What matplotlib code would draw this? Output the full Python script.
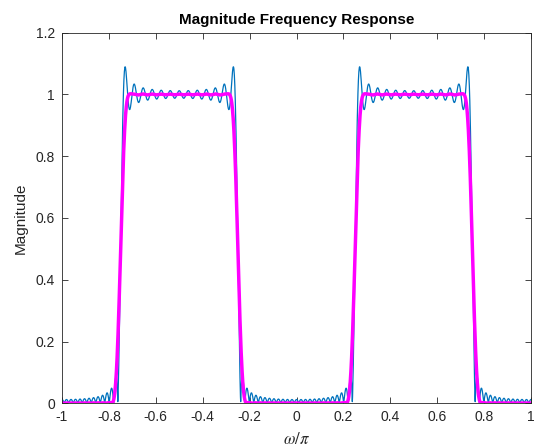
import numpy as np
import matplotlib
matplotlib.use('Agg')
import matplotlib.pyplot as plt

# filter specs (normalized frequency, w/pi)
band_edges = [0.25, 0.75]
filt_len = 101
freq_points = 2001
x_ticks = [-1, -0.8, -0.6, -0.4, -0.2, 0, 0.2, 0.4, 0.6, 0.8, 1]
y_ticks = [0, 0.2, 0.4, 0.6, 0.8, 1, 1.2]

# ideal bandpass impulse response, truncated (rectangular) and hamming windowed
M = (filt_len - 1) // 2
n = np.arange(-M, M + 1)
h_rect = band_edges[1] * np.sinc(band_edges[1] * n) - band_edges[0] * np.sinc(band_edges[0] * n)
h_ham = h_rect * np.hamming(filt_len)

w = np.linspace(-1, 1, freq_points)
E = np.exp(-1j * np.pi * np.outer(w, n))
H_rect = np.abs(E @ h_rect)
H_ham = np.abs(E @ h_ham)

plt.rcParams['font.family'] = ['Liberation Sans', 'DejaVu Sans']
plt.rcParams['mathtext.fontset'] = 'stix'
fig = plt.figure(figsize=(5.34, 4.48), dpi=100)
ax = fig.add_axes([0.1161, 0.0998, 0.8783, 0.8272])
ax.plot(w, H_rect, color='#0072BD', linewidth=0.9)
ax.plot(w, H_ham, color='#FF00FF', linewidth=2.5)
ax.set_xlim(-1, 1)
ax.set_ylim(0, 1.2)
ax.set_xticks(x_ticks)
ax.set_xticklabels([f'{t:g}' for t in x_ticks])
ax.set_yticks(y_ticks)
ax.set_yticklabels([f'{t:g}' for t in y_ticks])
ax.tick_params(direction='in', top=True, right=True, length=4, width=0.6,
               labelsize=10, colors='#262626', pad=5)
for s in ax.spines.values():
    s.set_linewidth(0.6)
    s.set_color('#262626')
ax.set_title('Magnitude Frequency Response', fontsize=11, fontweight='bold', pad=6)
ax.set_ylabel('Magnitude', fontsize=11, color='#262626', labelpad=6)
ax.set_xlabel(r'$\omega/\pi$', fontsize=12, color='#262626', labelpad=5)
fig.savefig('out.png', dpi=100)
